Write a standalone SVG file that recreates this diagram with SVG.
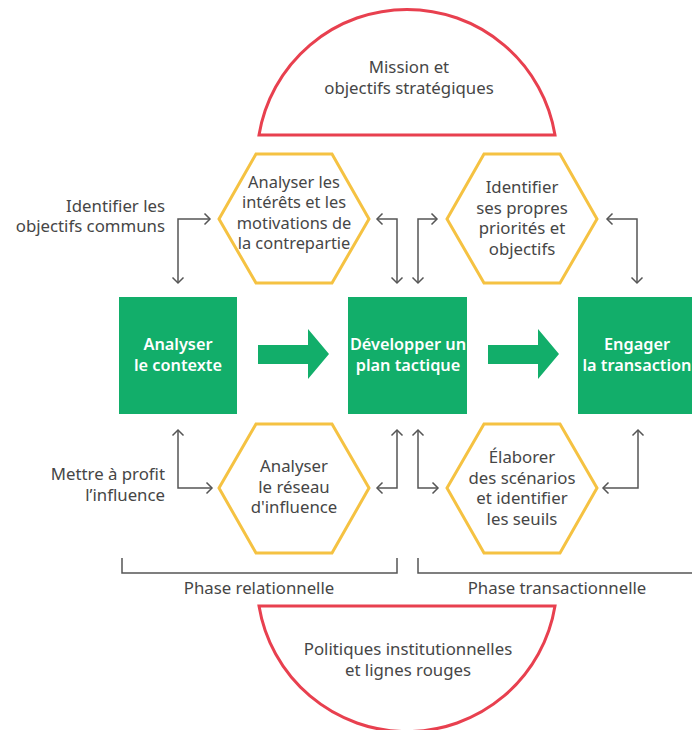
<svg xmlns="http://www.w3.org/2000/svg" width="692" height="730" viewBox="0 0 692 730">
  <style>
    .txt { font-family: "Noto Sans", "Open Sans", sans-serif; font-size: 16.8px; fill: #464646; text-anchor: middle; }
    .hx { font-size: 16.4px; }
    .side { text-anchor: end; }
    .box { fill: #12ae6a; }
    .boxtxt { font-family: "Noto Sans", "Open Sans", sans-serif; font-size: 16.3px; font-weight: 600; fill: #ffffff; text-anchor: middle; }
    .dome { fill: #ffffff; stroke: #e8404f; stroke-width: 3; }
    .hex { fill: #ffffff; stroke: #f5c242; stroke-width: 3; stroke-linejoin: miter; }
    .link { fill: none; stroke: #555555; stroke-width: 1.5; }
    .bracket { fill: none; stroke: #555555; stroke-width: 1.5; }
    .flow { fill: #12ae6a; }
  </style>
  <defs>
    <marker id="chev" markerUnits="userSpaceOnUse" markerWidth="14" markerHeight="14" viewBox="-7 -7 14 14" refX="0" refY="0" orient="auto-start-reverse">
      <path d="M-5.5,-5.5 L0,0 L-5.5,5.5" fill="none" stroke="#555555" stroke-width="1.5"/>
    </marker>
  </defs>

  <rect width="692" height="730" fill="#ffffff"/>

  <!-- top dome -->
  <g id="mission">
    <path class="dome" d="M259,135 A150,150 0 0 1 555,135 Z"/>
    <text class="txt" x="409" y="73">Mission et</text>
    <text class="txt" x="409" y="94">objectifs stratégiques</text>
  </g>

  <!-- bottom dome -->
  <g id="politiques">
    <path class="dome" d="M259,606 A150,150 0 0 0 555,606 Z"/>
    <text class="txt" x="408" y="655">Politiques institutionnelles</text>
    <text class="txt" x="408" y="676">et lignes rouges</text>
  </g>

  <!-- main steps -->
  <g id="contexte">
    <rect class="box" x="119" y="297" width="118" height="117"/>
    <text class="boxtxt" x="178" y="350">Analyser</text>
    <text class="boxtxt" x="178" y="371">le contexte</text>
  </g>
  <g id="plan">
    <rect class="box" x="348" y="297" width="119" height="117"/>
    <text class="boxtxt" x="408" y="350">Développer un</text>
    <text class="boxtxt" x="408" y="371">plan tactique</text>
  </g>
  <g id="transaction">
    <rect class="box" x="578" y="297" width="120" height="117"/>
    <text class="boxtxt" x="637" y="350">Engager</text>
    <text class="boxtxt" x="637" y="371">la transaction</text>
  </g>

  <!-- flow arrows between steps -->
  <g id="flow">
    <path class="flow" d="M258,345 H308 V329 L329,354 L308,379 V364 H258 Z"/>
    <path class="flow" d="M488,345 H538 V329 L559,354 L538,379 V364 H488 Z"/>
  </g>

  <!-- hexagon tasks -->
  <g id="interets">
    <polygon class="hex" points="219,219 256,154 332,154 369,219 332,283 256,283"/>
    <text class="txt hx" x="294" y="188">Analyser les</text>
    <text class="txt hx" x="294" y="208">intérêts et les</text>
    <text class="txt hx" x="294" y="229">motivations de</text>
    <text class="txt hx" x="294" y="249">la contrepartie</text>
  </g>
  <g id="priorites">
    <polygon class="hex" points="447,219 484,154 560,154 597,219 560,283 484,283"/>
    <text class="txt" x="522" y="193">Identifier</text>
    <text class="txt" x="522" y="214">ses propres</text>
    <text class="txt" x="522" y="234">priorités et</text>
    <text class="txt" x="522" y="255">objectifs</text>
  </g>
  <g id="reseau">
    <polygon class="hex" points="219,488 256,424 332,424 369,488 332,553 256,553"/>
    <text class="txt" x="294" y="472">Analyser</text>
    <text class="txt" x="294" y="493">le réseau</text>
    <text class="txt" x="294" y="513">d'influence</text>
  </g>
  <g id="scenarios">
    <polygon class="hex" points="447,488 484,424 560,424 597,488 560,553 484,553"/>
    <text class="txt" x="522" y="463">Élaborer</text>
    <text class="txt" x="522" y="484">des scénarios</text>
    <text class="txt" x="522" y="504">et identifier</text>
    <text class="txt" x="522" y="525">les seuils</text>
  </g>

  <!-- side labels -->
  <g id="objectifs-communs">
    <text class="txt side" x="165" y="212">Identifier les</text>
    <text class="txt side" x="165" y="232">objectifs communs</text>
  </g>
  <g id="influence">
    <text class="txt side" x="165" y="480">Mettre à profit</text>
    <text class="txt side" x="165" y="501">l’influence</text>
  </g>

  <!-- connectors -->
  <g id="connectors">
    <path class="link" d="M210,219 H178 V283" marker-start="url(#chev)" marker-end="url(#chev)"/>
    <path class="link" d="M377,219 H397 V283" marker-start="url(#chev)" marker-end="url(#chev)"/>
    <path class="link" d="M418,283 V219 H437" marker-start="url(#chev)" marker-end="url(#chev)"/>
    <path class="link" d="M607,219 H637 V283" marker-start="url(#chev)" marker-end="url(#chev)"/>
    <path class="link" d="M178,430 V488 H212" marker-start="url(#chev)" marker-end="url(#chev)"/>
    <path class="link" d="M377,488 H397 V430" marker-start="url(#chev)" marker-end="url(#chev)"/>
    <path class="link" d="M418,430 V488 H438" marker-start="url(#chev)" marker-end="url(#chev)"/>
    <path class="link" d="M603,488 H638 V430" marker-start="url(#chev)" marker-end="url(#chev)"/>
  </g>

  <!-- phase brackets -->
  <g id="phase-relationnelle">
    <path class="bracket" d="M122,558 V573 H397 V558"/>
    <text class="txt" x="259" y="594">Phase relationnelle</text>
  </g>
  <g id="phase-transactionnelle">
    <path class="bracket" d="M418,558 V573 H700"/>
    <text class="txt" x="557" y="594">Phase transactionnelle</text>
  </g>
</svg>
